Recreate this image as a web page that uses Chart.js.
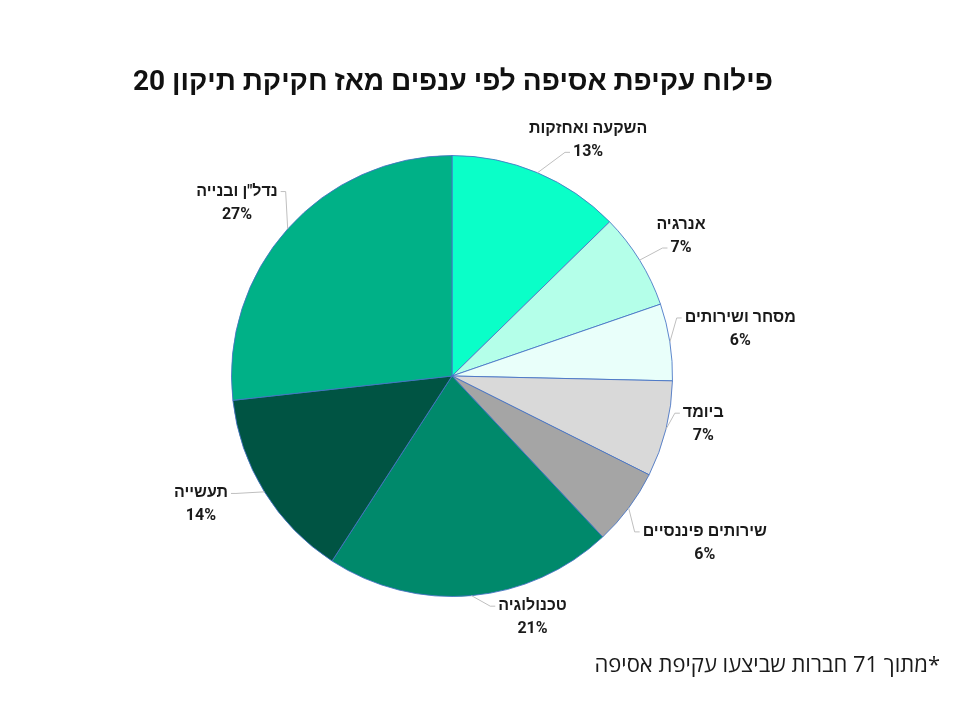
<!DOCTYPE html>
<html lang="he" dir="rtl">
<head>
    <meta charset="UTF-8">
    <title>פילוח עקיפת אסיפה לפי ענפים</title>
    <script src="https://cdn.jsdelivr.net/npm/chart.js"></script>
    <style>
        body { margin: 0; background: #fff; }
        #wrap { width: 960px; height: 720px; }
    </style>
</head>
<body>
    <div id="wrap">
        <canvas id="sectorChart" width="960" height="720"></canvas>
    </div>

    <script>
        // Sectors, clockwise from 12 o'clock (counts out of 71 companies)
        const sectors = ['השקעה ואחזקות', 'אנרגיה', 'מסחר ושירותים', 'ביומד', 'שירותים פיננסיים', 'טכנולוגיה', 'תעשייה', 'נדל"ן ובנייה'];
        const companyCounts = [9, 5, 4, 5, 4, 15, 10, 19];
        const percentLabels = ['13%', '7%', '6%', '7%', '6%', '21%', '14%', '27%'];
        const sliceColors = ['#0affc8', '#b4ffe9', '#e9fffa', '#d9d9d9', '#a5a5a5', '#00896b', '#005443', '#00b187'];

        const titleText = 'פילוח עקיפת אסיפה לפי ענפים מאז חקיקת תיקון 20';
        const noteText = '*מתוך 71 חברות שביצעו עקיפת אסיפה';

        const labelFont = 'bold 16px Roboto, "Liberation Sans", Arial, sans-serif';

        // outside labels with leader lines, roughly like the Excel "best fit" look
        const outsideLabels = {
            id: 'outsideLabels',
            afterDatasetsDraw(chart, args, opts) {
                const ctx = chart.ctx;
                const meta = chart.getDatasetMeta(0);
                ctx.save();
                ctx.direction = 'rtl';
                ctx.font = labelFont;
                ctx.textBaseline = 'middle';
                ctx.textAlign = 'center';
                meta.data.forEach((arc, i) => {
                    const p = arc.getProps(['x', 'y', 'startAngle', 'endAngle', 'outerRadius'], true);
                    const mid = (p.startAngle + p.endAngle) / 2;
                    const a = mid + opts.shift[i] * Math.PI / 180;
                    const d = p.outerRadius + opts.gap[i];
                    const nameW = ctx.measureText(sectors[i]).width;
                    const pctW = ctx.measureText(percentLabels[i]).width;
                    const w = Math.max(nameW, pctW);
                    const h = 42;
                    const cx = p.x + Math.cos(a) * d + Math.cos(a) * w / 2;
                    const cy = p.y + Math.sin(a) * d + Math.sin(a) * h / 2;
                    const nameY = cy - 11.5;
                    const pctY = cy + 11.5;

                    // leader line
                    const sx = p.x + Math.cos(mid) * p.outerRadius;
                    const sy = p.y + Math.sin(mid) * p.outerRadius;
                    const right = Math.cos(a) >= 0;
                    const usePct = right && Math.sin(a) < -0.5;
                    const ly = usePct ? pctY : nameY;
                    const lw = usePct ? pctW : nameW;
                    const ex = right ? cx - lw / 2 - 3 : cx + lw / 2 + 3;
                    ctx.strokeStyle = '#bfbfbf';
                    ctx.lineWidth = 1;
                    ctx.beginPath();
                    ctx.moveTo(sx, sy);
                    ctx.lineTo(right ? ex - 5 : ex + 5, ly);
                    ctx.lineTo(ex, ly);
                    ctx.stroke();

                    ctx.fillStyle = '#1a1a1a';
                    ctx.fillText(sectors[i], cx, nameY);
                    ctx.fillText(percentLabels[i], cx, pctY);
                });
                ctx.restore();
            }
        };

        // title and footnote
        const pageText = {
            id: 'pageText',
            afterDraw(chart) {
                const ctx = chart.ctx;
                ctx.save();
                ctx.direction = 'rtl';
                ctx.textBaseline = 'middle';
                ctx.fillStyle = '#111';
                ctx.font = 'bold 28px Roboto, "Liberation Sans", Arial, sans-serif';
                ctx.textAlign = 'center';
                ctx.fillText(titleText, 453, 83);
                ctx.fillStyle = '#1a1a1a';
                ctx.font = '22px "Open Sans", "Liberation Sans", Arial, sans-serif';
                ctx.textAlign = 'right';
                ctx.fillText(noteText, 940, 666);
                ctx.restore();
            }
        };

        new Chart(document.getElementById('sectorChart'), {
            type: 'pie',
            data: {
                labels: sectors,
                datasets: [{
                    data: companyCounts,
                    backgroundColor: sliceColors,
                    borderColor: 'rgba(68, 114, 196, 0.85)',
                    borderWidth: 1
                }]
            },
            options: {
                responsive: false,
                animation: false,
                layout: {
                    padding: { top: 155, bottom: 123, left: 231, right: 287 }
                },
                plugins: {
                    legend: { display: false },
                    tooltip: { enabled: false },
                    outsideLabels: {
                        shift: [4, 0, -1.5, -3, 0.5, -12.5, 4, -1],
                        gap: [22, 24, 17, 15, 35, 12, 36, 23]
                    }
                }
            },
            plugins: [outsideLabels, pageText]
        });
    </script>
</body>
</html>
